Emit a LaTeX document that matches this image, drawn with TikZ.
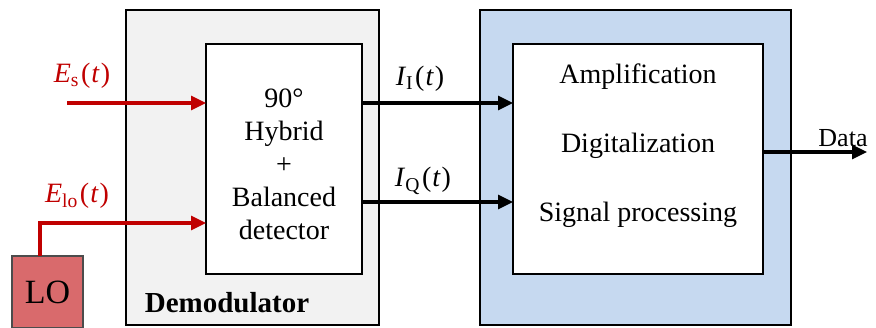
\documentclass[tikz,border=0pt]{standalone}
\usepackage{fontspec}
\setmainfont{Liberation Serif}
\usetikzlibrary{arrows.meta}
\definecolor{redline}{HTML}{C00000}
\definecolor{demofill}{HTML}{F2F2F2}
\definecolor{bluefill}{HTML}{C6D9F0}
\definecolor{lofill}{HTML}{D96A6C}
\newcommand{\sublbl}[2]{\textit{#1}\textsubscript{#2}\kern2pt(\kern1pt\textit{t}\kern1pt)}
\tikzset{
  outerbox/.style={draw=black, line width=1.8pt, anchor=north west, inner sep=0pt, outer sep=0pt},
  innerbox/.style={draw=black, line width=1.8pt, fill=white, anchor=north west, inner sep=0pt, outer sep=0pt},
  txt/.style={font=\fontsize{28}{33}\selectfont, inner sep=0pt, align=center},
  mlabel/.style={font=\fontsize{28}{30}\selectfont, inner sep=0pt},
  redarrow/.style={draw=redline, line width=3.2pt, -{Triangle[length=15pt,width=14pt]}},
  blkarrow/.style={draw=black, line width=3.2pt, -{Triangle[length=15pt,width=14pt]}},
}
\begin{document}
\begin{tikzpicture}[x=1pt,y=-1pt]
\useasboundingbox (0,0) rectangle (876,327);
% outer boxes
\node[outerbox, fill=demofill, minimum width=253pt, minimum height=315pt] (demod) at (126,10) {};
\node[outerbox, fill=bluefill, minimum width=311pt, minimum height=315pt] (proc) at (480,10) {};
% inner boxes
\node[innerbox, minimum width=156pt, minimum height=230pt] (hyb) at (206,44) {};
\node[innerbox, minimum width=250pt, minimum height=230pt] (dsp) at (513,44) {};
% LO
\node[draw=black!70, line width=1.4pt, fill=lofill, minimum width=71pt, minimum height=72pt, anchor=north west, inner sep=0pt, outer sep=0pt, font=\fontsize{34}{36}\selectfont] (lo) at (12,256) {LO};
% texts
\node[txt] (hybtxt) at (284,164) {90°\\Hybrid\\+\\Balanced\\detector};
\node[txt, font=\fontsize{28}{69}\selectfont] (dsptxt) at (638,146) {Amplification\\Digitalization\\Signal processing};
\node[font=\bfseries\fontsize{29}{30}\selectfont, inner sep=0pt] (demodlbl) at (227,303) {Demodulator};
% inputs
\coordinate (esstart) at (67,103);
\draw[redarrow] (esstart) -- (hyb.west |- esstart);
\coordinate (locorner) at (40,223);
\draw[redarrow] (lo.north -| locorner) -- (locorner) -- (hyb.west |- locorner);
\node[mlabel, text=redline] (eslbl) at (82,76) {\sublbl{E}{s}};
\node[mlabel, text=redline] (elolbl) at (77,196) {\sublbl{E}{lo}};
% outputs
\coordinate (irow) at (362,103);
\coordinate (qrow) at (362,202);
\draw[blkarrow] (irow) -- (dsp.west |- irow);
\draw[blkarrow] (qrow) -- (dsp.west |- qrow);
\node[mlabel] (ilbl) at (420,79) {\sublbl{I}{I}};
\node[mlabel] (qlbl) at (423,181) {\sublbl{I}{Q}};
\coordinate (dataend) at (867,152);
\draw[blkarrow] (dsp.east |- dataend) -- (dataend);
\node[font=\fontsize{26}{28}\selectfont, inner sep=0pt] (datalbl) at (843,138) {Data};
\end{tikzpicture}
\end{document}
